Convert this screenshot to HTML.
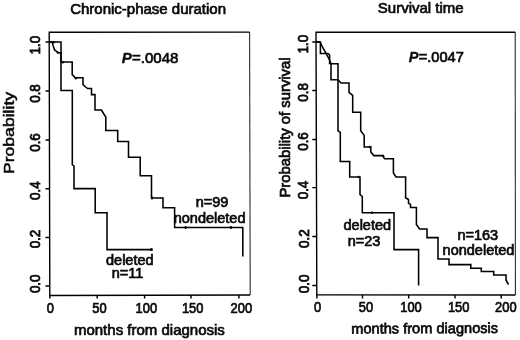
<!DOCTYPE html>
<html><head><meta charset="utf-8">
<style>
html,body{margin:0;padding:0;background:#fff;}
svg{display:block;filter:blur(0.35px);}
text{font-family:"Liberation Sans",Arial,sans-serif;fill:#0a0a0a;stroke:#0a0a0a;stroke-width:0.7px;}
.t{font-size:14.5px;stroke-width:0.85px;}
.h{font-size:15px;}
.k{font-size:13.4px;stroke-width:0.9px;}
.kh{font-size:14.1px;}
.c{fill:none;stroke:#000;stroke-width:1.55;stroke-linejoin:miter;}
.b{fill:none;stroke:#000;stroke-width:1.45;}
.b1{fill:none;stroke:#000;stroke-width:1.4;stroke-linejoin:miter;}
.b2{fill:none;stroke:#222;stroke-width:1.05;}
</style></head><body>
<svg width="520" height="340" viewBox="0 0 520 340">
<rect width="520" height="340" fill="#fff"/>
<!-- LEFT PANEL -->
<text class="h" x="148.1" y="14.3" text-anchor="middle">Chronic-phase duration</text>
<path class="b2" d="M249.6 32.1L250.2 295"/><path class="b1" d="M249.6 32.1L49.2 32.2L49.8 295.5L250.2 295"/>
<!-- y ticks -->
<path class="b" d="M45.5 42H49.2M45.5 91H49.2M45.5 140H49.2M45.5 188.7H49.2M45.5 237.5H49.2M45.5 286H49.2"/>
<!-- x ticks -->
<path class="b" d="M49.9 295v3.6M97.2 295v3.6M144.6 295v3.6M191 295v3.6M238.9 295v3.6"/>
<g class="k" text-anchor="middle">
<text transform="translate(39.5,45.2) rotate(-90) scale(1,1.15)">1.0</text>
<text transform="translate(39.5,93.5) rotate(-90) scale(1,1.15)">0.8</text>
<text transform="translate(39.5,142.5) rotate(-90) scale(1,1.15)">0.6</text>
<text transform="translate(39.5,190.6) rotate(-90) scale(1,1.15)">0.4</text>
<text transform="translate(39.5,239) rotate(-90) scale(1,1.15)">0.2</text>
<text transform="translate(39.6,283.8) rotate(-90) scale(1,1.15)">0.0</text>
<text transform="translate(50.3,312.8) scale(0.915,1)" class="kh">0</text>
<text transform="translate(99.5,312.8) scale(0.915,1)" class="kh">50</text>
<text transform="translate(146.3,312.8) scale(0.915,1)" class="kh">100</text>
<text transform="translate(192.7,312.8) scale(0.915,1)" class="kh">150</text>
<text transform="translate(241.3,312.8) scale(0.915,1)" class="kh">200</text>
</g>
<text transform="translate(13.5,133) rotate(-90) scale(1.215,1)" text-anchor="middle" style="font-size:14.5px;stroke-width:0.5px">Probability</text>
<text class="h" x="149.4" y="334.6" text-anchor="middle">months from diagnosis</text>
<text class="h" x="121.8" y="63.1"><tspan font-weight="bold" font-style="italic" stroke-width="0.3">P</tspan><tspan dx="0.2">=.0048</tspan></text>
<!-- nondeleted -->
<path class="c" d="M49.2 42H52.3L53 45.4L54.6 50L58.5 52.8H61V62H72.2V74.6L75.4 77.7H83V84.6L85 86.5L87.7 88.5H91.5V94.6H95V110H101.5L103.5 113.5L105.8 117V130.4H117.7V141.5H128.5V157.2H140.2V175.8H151.5V198H163V207.8H174.6V227.4H242.8V256.6"/>
<path class="c" d="M185.6 226v3M231 226v3M152 196.5v3"/>
<circle cx="53.6" cy="42.2" r="1.2" fill="#0a0a0a"/><circle cx="57.8" cy="52.6" r="1.2" fill="#0a0a0a"/><circle cx="62.9" cy="62.2" r="1.3" fill="#0a0a0a"/><circle cx="75.8" cy="78.3" r="1.2" fill="#0a0a0a"/>
<!-- deleted -->
<path class="c" d="M49.2 42H61V90.4H72.3V164.6L74 166V188.6H95.2V212.8H107V249.6H151.5"/>
<circle cx="151.5" cy="249.6" r="1.5" fill="#0a0a0a"/>
<g class="t" text-anchor="middle">
<text x="212" y="206.6">n=99</text>
<text x="209.6" y="223">nondeleted</text>
<text x="129.8" y="265">deleted</text>
<text x="127.6" y="278.1">n=11</text>
</g>
<!-- RIGHT PANEL -->
<text class="h" x="420.75" y="12.5" text-anchor="middle">Survival time</text>
<path class="b2" d="M515.2 32.3L515.4 295"/><path class="b1" d="M515.2 32.3L316 32.3L316.8 294.9L515.4 295"/>
<path class="b" d="M312.3 42H316M312.3 90.5H316M312.3 139.5H316M312.3 187.6H316.3M312.3 236.5H316.5M312.3 285.4H316.7"/>
<path class="b" d="M316.9 295v3.6M362.5 295v3.6M408.7 295v3.6M455 295v3.6M501.2 295v3.6"/>
<g class="k" text-anchor="middle">
<text transform="translate(308,44.1) rotate(-90) scale(1,1.15)">1.0</text>
<text transform="translate(307.6,92.4) rotate(-90) scale(1,1.15)">0.8</text>
<text transform="translate(308,141.5) rotate(-90) scale(1,1.15)">0.6</text>
<text transform="translate(308,190) rotate(-90) scale(1,1.15)">0.4</text>
<text transform="translate(308.5,238.7) rotate(-90) scale(1,1.15)">0.2</text>
<text transform="translate(308.9,283.9) rotate(-90) scale(1,1.15)">0.0</text>
<text transform="translate(317.5,312.2) scale(0.915,1)" class="kh">0</text>
<text transform="translate(366,312.2) scale(0.915,1)" class="kh">50</text>
<text transform="translate(411,312.2) scale(0.915,1)" class="kh">100</text>
<text transform="translate(458.7,312.2) scale(0.915,1)" class="kh">150</text>
<text transform="translate(505.8,312.2) scale(0.915,1)" class="kh">200</text>
</g>
<text transform="translate(289.8,127.5) rotate(-90) scale(1.045,1)" text-anchor="middle" style="font-size:14.2px">Probability of survival</text>
<text x="424.7" y="333.3" text-anchor="middle" style="font-size:14.6px" transform="rotate(-0.3 424.7 333.3)">months from diagnosis</text>
<text x="408.8" y="62.4" style="font-size:14.6px"><tspan font-weight="bold" font-style="italic" stroke-width="0.3">P</tspan><tspan dx="0.2">=.0047</tspan></text>
<!-- deleted -->
<path class="c" d="M316 42H320.4V53.4H328L329.6 55V63.5H331V79.7H338V130.8L340.3 132.5V161.5H349.7V177H360V194.6L362.3 196.5V212.8H394V249.6H418.6V285.4"/>
<circle cx="358.8" cy="177" r="1.3" fill="#0a0a0a"/>
<circle cx="372" cy="212.8" r="1.3" fill="#0a0a0a"/>
<!-- nondeleted -->
<path class="c" d="M316 42H320L323 48L326 53.4L329.6 60L330.8 63.7H338V79.7L341 83H349V92.3L352.7 95.4V112.3H360.7V130.8L364.2 135.4V147H370.8V152L373.8 155.6H383L384.5 158.8H393.4V173L396 177H405.6V197.7L408.5 199.5V203L410.5 204.5V207.4H416.4V224.4L419.6 229H427V237.6H438V259H449V264.6H470.8V268.3H481.3V271.5H493.7V275H506V280L508.5 284.5"/>
<circle cx="370" cy="147" r="1.3" fill="#0a0a0a"/>
<circle cx="383" cy="156" r="1.3" fill="#0a0a0a"/>
<g class="t" text-anchor="middle">
<text x="367.3" y="230.4">deleted</text>
<text x="364" y="245.8">n=23</text>
<text x="477.8" y="240">n=163</text>
<text x="478.5" y="255.4">nondeleted</text>
</g>
</svg>
</body></html>
